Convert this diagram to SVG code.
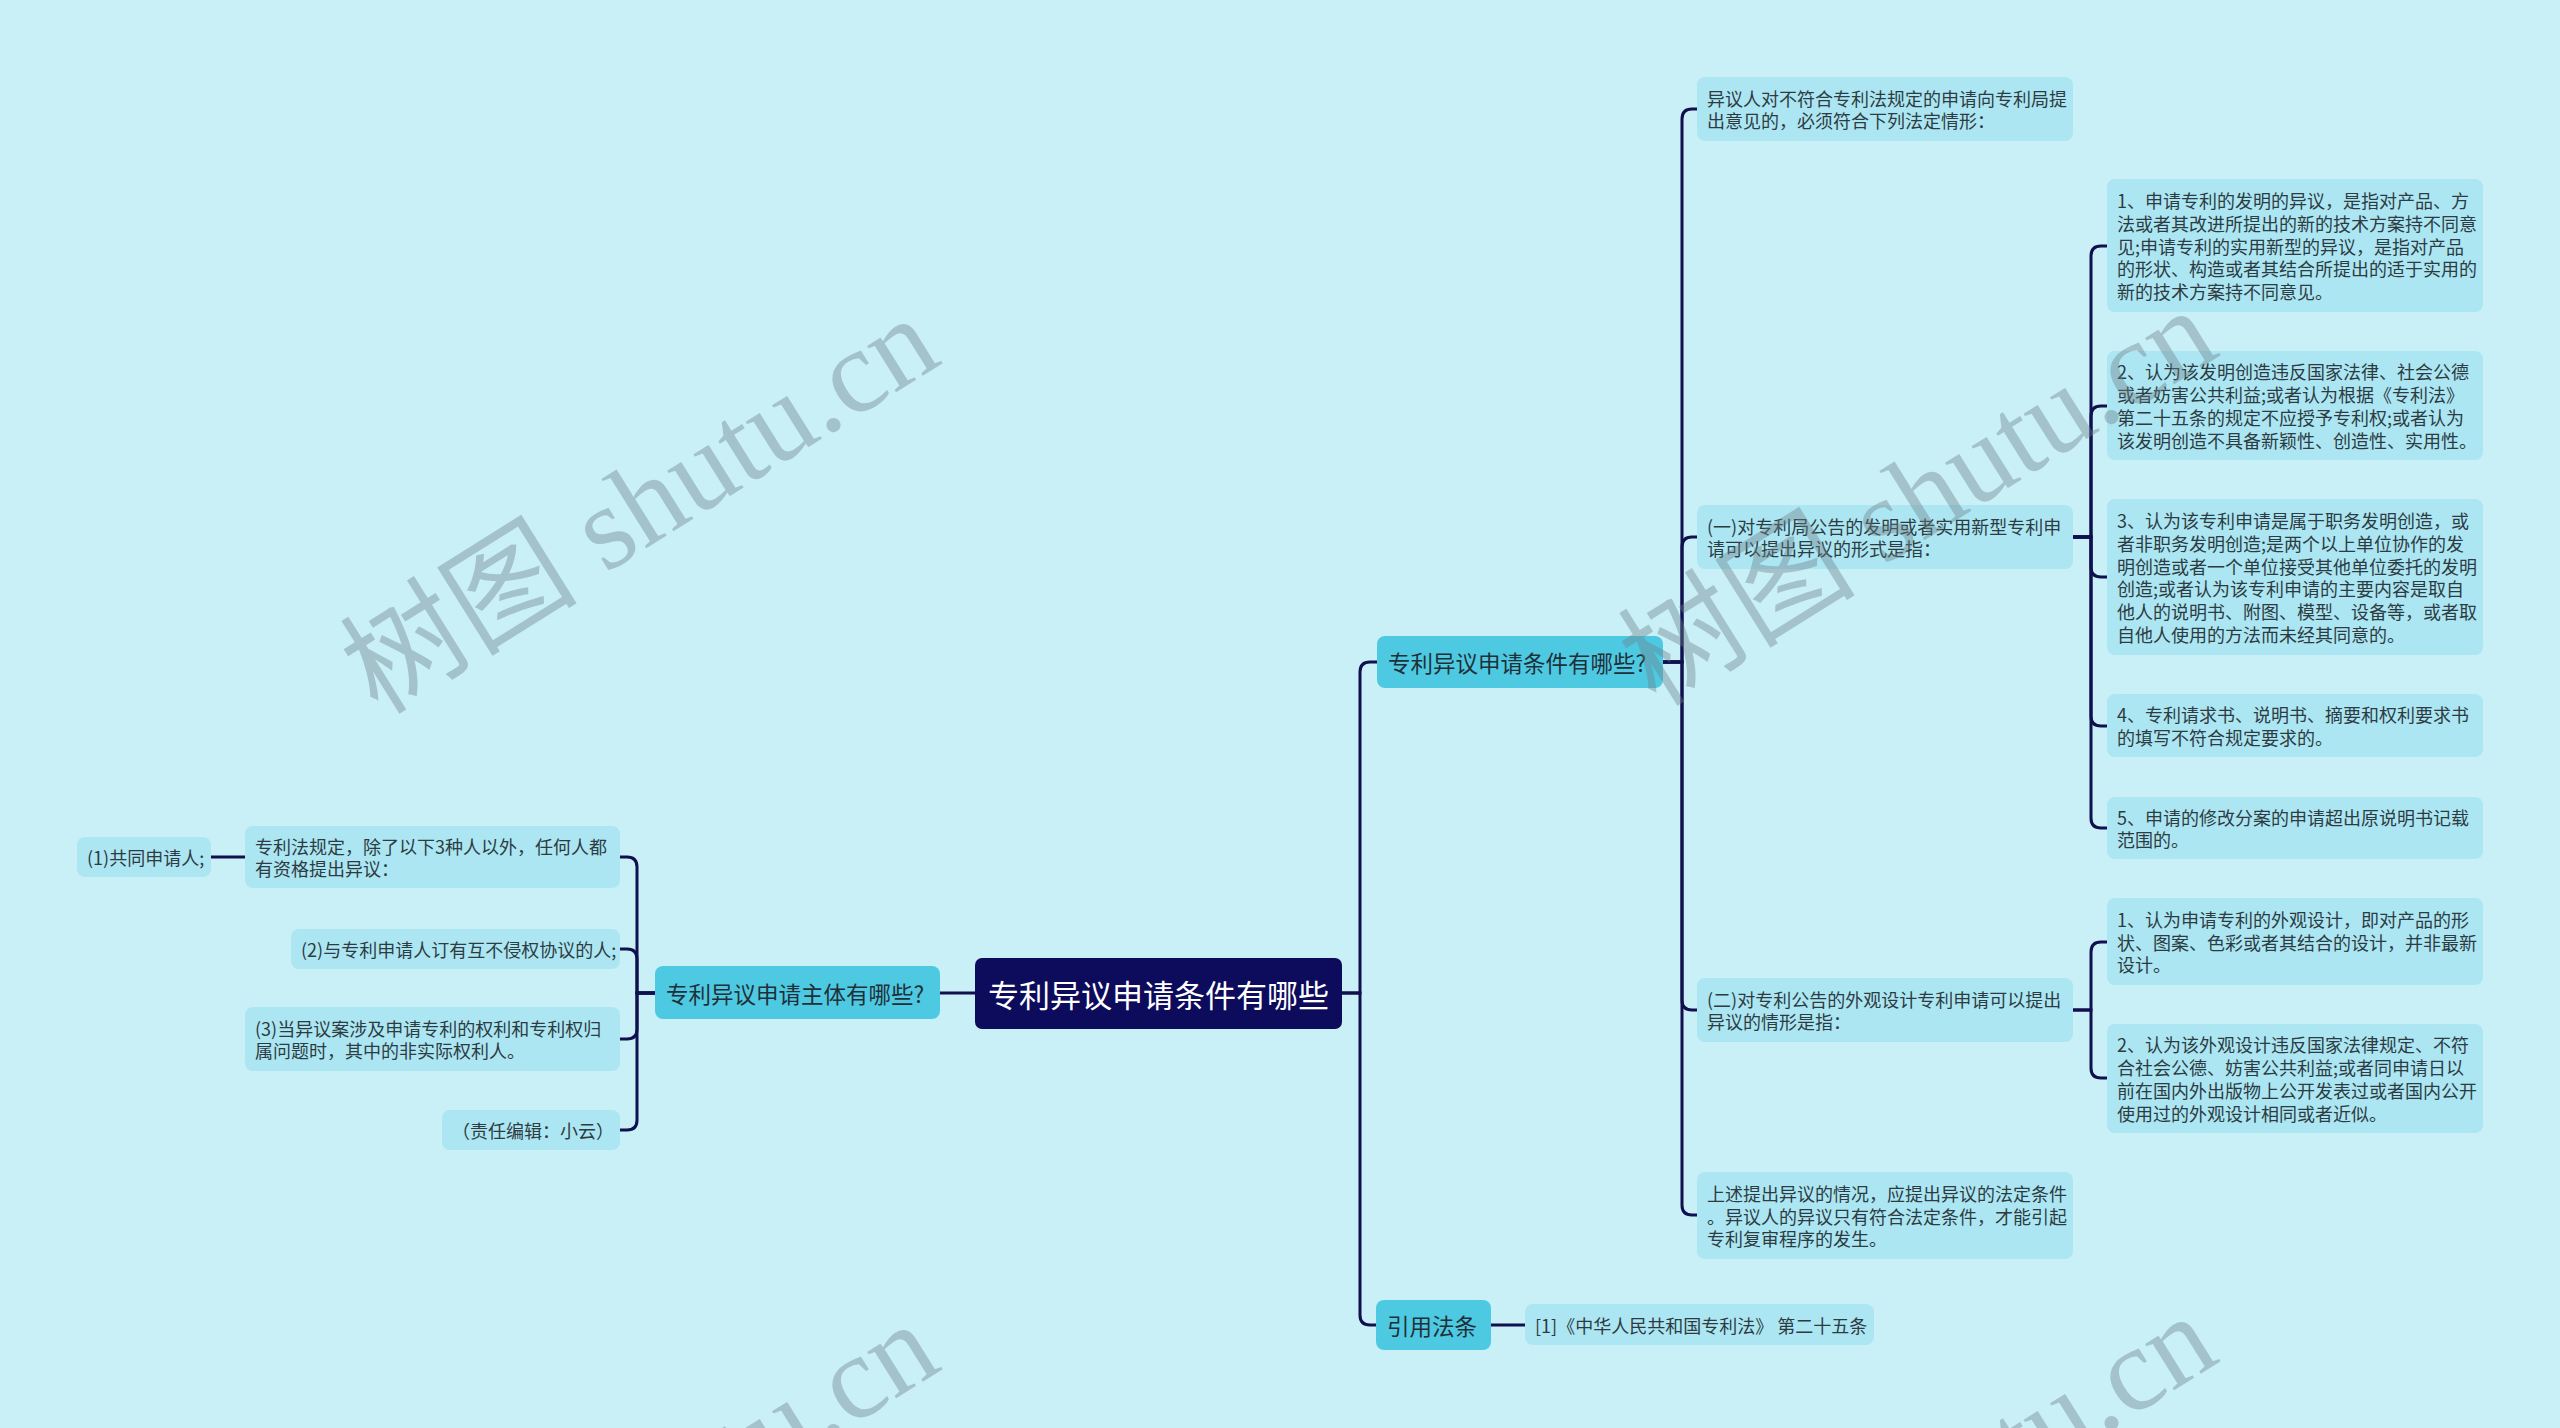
<svg xmlns="http://www.w3.org/2000/svg" width="2560" height="1428" viewBox="0 0 2560 1428">
<style>
.leaf{fill:#ace6f3;}
.br{fill:#4ec9e2;}
.t{font-family:"Noto Sans CJK SC","Noto Sans",sans-serif;font-size:18px;fill:#2c3c42;dominant-baseline:central;}
.bt{font-family:"Noto Sans CJK SC","Noto Sans",sans-serif;font-size:22.5px;fill:#1f3038;dominant-baseline:central;}
.rt{font-family:"Noto Sans CJK SC","Noto Sans",sans-serif;font-size:31px;fill:#ffffff;dominant-baseline:central;}
.wm{font-family:"Liberation Serif","DejaVu Serif","Noto Sans CJK SC",serif;font-size:119px;fill:#6d8088;opacity:0.4;}
.c{fill:none;stroke:#10104e;stroke-width:3;}
</style>
<rect width="2560" height="1428" fill="#c9eff7"/>
<g id="connectors">
<path class="c" d="M1342,993 H1360 V672 Q1360,662 1370,662 H1377"/>
<path class="c" d="M1342,993 H1360 V1315 Q1360,1325 1370,1325 H1376"/>
<path class="c" d="M975,993 H940"/>
<path class="c" d="M655,993 H637 V867 Q637,857 627,857 H620"/>
<path class="c" d="M655,993 H637 V959 Q637,949 627,949 H620"/>
<path class="c" d="M655,993 H637 V1029 Q637,1039 627,1039 H620"/>
<path class="c" d="M655,993 H637 V1120 Q637,1130 627,1130 H620"/>
<path class="c" d="M245,857 H211"/>
<path class="c" d="M1663,662 H1682 V119 Q1682,109 1692,109 H1697"/>
<path class="c" d="M1663,662 H1682 V547 Q1682,537 1692,537 H1697"/>
<path class="c" d="M1663,662 H1682 V1000 Q1682,1010 1692,1010 H1697"/>
<path class="c" d="M1663,662 H1682 V1205 Q1682,1215 1692,1215 H1697"/>
<path class="c" d="M2073,537 H2091 V256 Q2091,246 2101,246 H2107"/>
<path class="c" d="M2073,537 H2091 V416 Q2091,406 2101,406 H2107"/>
<path class="c" d="M2073,537 H2091 V567 Q2091,577 2101,577 H2107"/>
<path class="c" d="M2073,537 H2091 V716 Q2091,726 2101,726 H2107"/>
<path class="c" d="M2073,537 H2091 V818 Q2091,828 2101,828 H2107"/>
<path class="c" d="M2073,1010 H2091 V952 Q2091,942 2101,942 H2107"/>
<path class="c" d="M2073,1010 H2091 V1068 Q2091,1078 2101,1078 H2107"/>
<path class="c" d="M1491,1325 H1525"/>
</g>
<g id="root">
<rect x="975" y="958" width="367" height="71" rx="7" fill="#0d0b5c"/>
<text class="rt" x="1158.5" y="993" text-anchor="middle">专利异议申请条件有哪些</text>
</g>
<g id="b1">
<rect class="br" x="1377" y="636" width="286" height="52" rx="8"/>
<text class="bt" x="1388" y="662">专利异议申请条件有哪些?</text>
</g>
<g id="b2">
<rect class="br" x="655" y="966" width="285" height="53" rx="8"/>
<text class="bt" x="666" y="992.5">专利异议申请主体有哪些?</text>
</g>
<g id="b3">
<rect class="br" x="1376" y="1300" width="115" height="50" rx="8"/>
<text class="bt" x="1387" y="1325">引用法条</text>
</g>
<g id="n-a">
<rect class="leaf" x="1697" y="77" width="376" height="64" rx="8"/>
<text class="t" x="1707" y="97.6">异议人对不符合专利法规定的申请向专利局提</text>
<text class="t" x="1707" y="120.4">出意见的，必须符合下列法定情形：</text>
</g>
<g id="n-b">
<rect class="leaf" x="1697" y="505" width="376" height="64" rx="8"/>
<text class="t" x="1707" y="525.6">(一)对专利局公告的发明或者实用新型专利申</text>
<text class="t" x="1707" y="548.4">请可以提出异议的形式是指：</text>
</g>
<g id="n-c">
<rect class="leaf" x="1697" y="978" width="376" height="64" rx="8"/>
<text class="t" x="1707" y="998.6">(二)对专利公告的外观设计专利申请可以提出</text>
<text class="t" x="1707" y="1021.4">异议的情形是指：</text>
</g>
<g id="n-d">
<rect class="leaf" x="1697" y="1172" width="376" height="87" rx="8"/>
<text class="t" x="1707" y="1192.7">上述提出异议的情况，应提出异议的法定条件</text>
<text class="t" x="1707" y="1215.5">。异议人的异议只有符合法定条件，才能引起</text>
<text class="t" x="1707" y="1238.3">专利复审程序的发生。</text>
</g>
<g id="n-b1">
<rect class="leaf" x="2107" y="179" width="376" height="133" rx="8"/>
<text class="t" x="2117" y="199.9">1、申请专利的发明的异议，是指对产品、方</text>
<text class="t" x="2117" y="222.7">法或者其改进所提出的新的技术方案持不同意</text>
<text class="t" x="2117" y="245.5">见;申请专利的实用新型的异议，是指对产品</text>
<text class="t" x="2117" y="268.3">的形状、构造或者其结合所提出的适于实用的</text>
<text class="t" x="2117" y="291.1">新的技术方案持不同意见。</text>
</g>
<g id="n-b2">
<rect class="leaf" x="2107" y="351" width="376" height="109" rx="8"/>
<text class="t" x="2117" y="371.3">2、认为该发明创造违反国家法律、社会公德</text>
<text class="t" x="2117" y="394.1">或者妨害公共利益;或者认为根据《专利法》</text>
<text class="t" x="2117" y="416.9">第二十五条的规定不应授予专利权;或者认为</text>
<text class="t" x="2117" y="439.7">该发明创造不具备新颖性、创造性、实用性。</text>
</g>
<g id="n-b3">
<rect class="leaf" x="2107" y="499" width="376" height="156" rx="8"/>
<text class="t" x="2117" y="520">3、认为该专利申请是属于职务发明创造，或</text>
<text class="t" x="2117" y="542.8">者非职务发明创造;是两个以上单位协作的发</text>
<text class="t" x="2117" y="565.6">明创造或者一个单位接受其他单位委托的发明</text>
<text class="t" x="2117" y="588.4">创造;或者认为该专利申请的主要内容是取自</text>
<text class="t" x="2117" y="611.2">他人的说明书、附图、模型、设备等，或者取</text>
<text class="t" x="2117" y="634">自他人使用的方法而未经其同意的。</text>
</g>
<g id="n-b4">
<rect class="leaf" x="2107" y="694" width="376" height="63" rx="8"/>
<text class="t" x="2117" y="714.1">4、专利请求书、说明书、摘要和权利要求书</text>
<text class="t" x="2117" y="736.9">的填写不符合规定要求的。</text>
</g>
<g id="n-b5">
<rect class="leaf" x="2107" y="797" width="376" height="62" rx="8"/>
<text class="t" x="2117" y="816.6">5、申请的修改分案的申请超出原说明书记载</text>
<text class="t" x="2117" y="839.4">范围的。</text>
</g>
<g id="n-c1">
<rect class="leaf" x="2107" y="898" width="376" height="87" rx="8"/>
<text class="t" x="2117" y="918.7">1、认为申请专利的外观设计，即对产品的形</text>
<text class="t" x="2117" y="941.5">状、图案、色彩或者其结合的设计，并非最新</text>
<text class="t" x="2117" y="964.3">设计。</text>
</g>
<g id="n-c2">
<rect class="leaf" x="2107" y="1024" width="376" height="109" rx="8"/>
<text class="t" x="2117" y="1044.3">2、认为该外观设计违反国家法律规定、不符</text>
<text class="t" x="2117" y="1067.1">合社会公德、妨害公共利益;或者同申请日以</text>
<text class="t" x="2117" y="1089.9">前在国内外出版物上公开发表过或者国内公开</text>
<text class="t" x="2117" y="1112.7">使用过的外观设计相同或者近似。</text>
</g>
<g id="n-cite">
<rect class="leaf" x="1525" y="1304" width="349" height="41" rx="8"/>
<text class="t" x="1535" y="1324.5">[1]《中华人民共和国专利法》 第二十五条</text>
</g>
<g id="n-l1">
<rect class="leaf" x="245" y="826" width="375" height="62" rx="8"/>
<text class="t" x="255" y="845.6">专利法规定，除了以下3种人以外，任何人都</text>
<text class="t" x="255" y="868.4">有资格提出异议：</text>
</g>
<g id="n-l1a">
<rect class="leaf" x="77" y="837" width="134" height="40" rx="8"/>
<text class="t" x="87" y="857">(1)共同申请人;</text>
</g>
<g id="n-l2">
<rect class="leaf" x="291" y="929" width="329" height="40" rx="8"/>
<text class="t" x="301" y="949">(2)与专利申请人订有互不侵权协议的人;</text>
</g>
<g id="n-l3">
<rect class="leaf" x="245" y="1007" width="375" height="64" rx="8"/>
<text class="t" x="255" y="1027.6">(3)当异议案涉及申请专利的权利和专利权归</text>
<text class="t" x="255" y="1050.4">属问题时，其中的非实际权利人。</text>
</g>
<g id="n-l4">
<rect class="leaf" x="442" y="1110" width="178" height="40" rx="8"/>
<text class="t" x="452" y="1130">（责任编辑：小云）</text>
</g>
<g id="watermarks">
<text class="wm" transform="translate(378,716) rotate(-32)">树图 shutu.cn</text>
<text class="wm" transform="translate(1656,708) rotate(-32)">树图 shutu.cn</text>
<text class="wm" transform="translate(378,1722) rotate(-32)">树图 shutu.cn</text>
<text class="wm" transform="translate(1656,1714) rotate(-32)">树图 shutu.cn</text>
</g>
</svg>
